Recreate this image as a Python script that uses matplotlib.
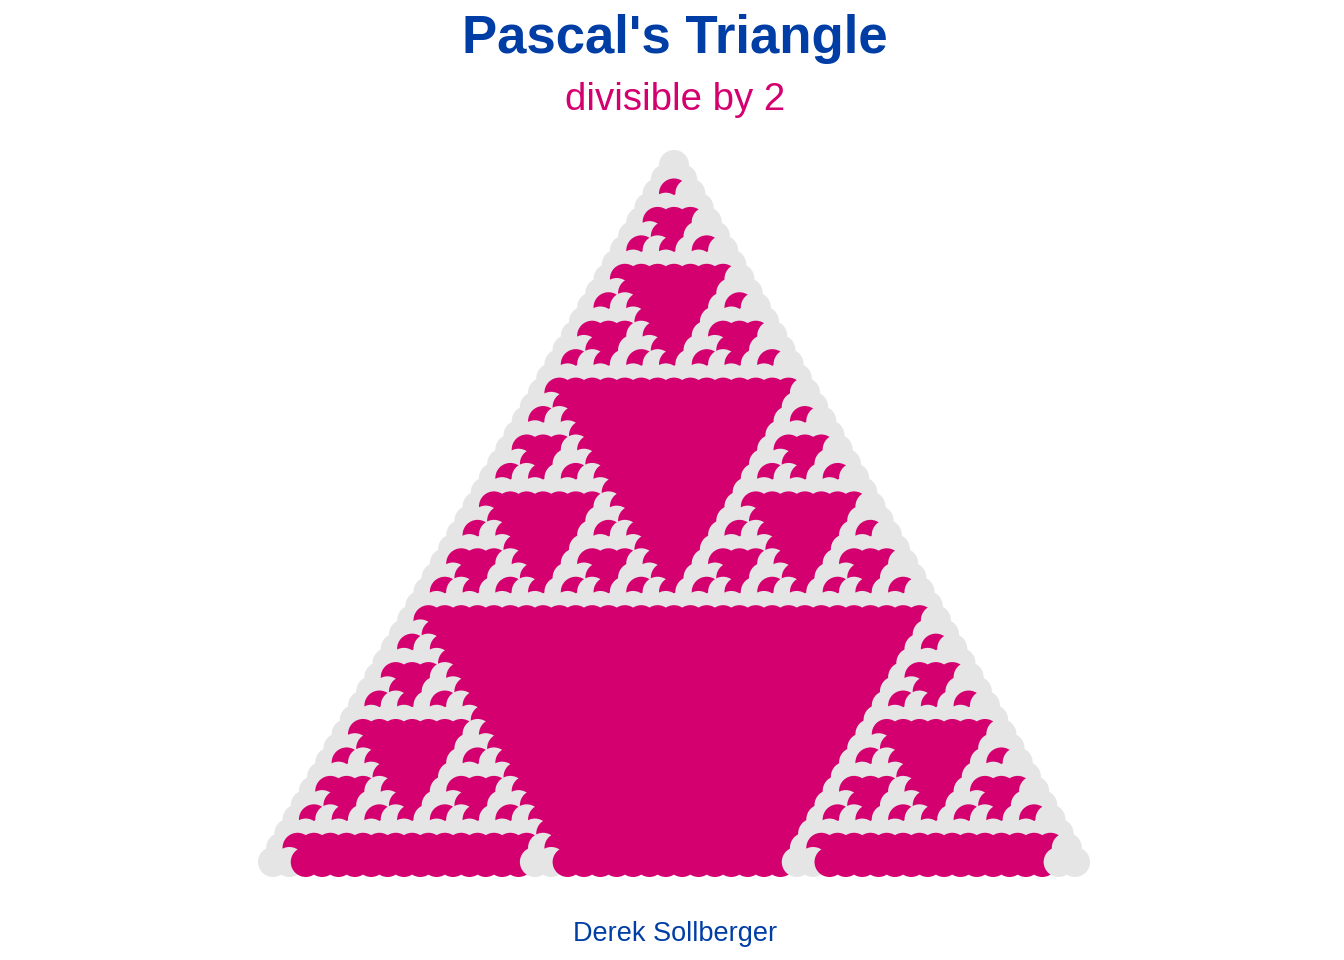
import math
import matplotlib
matplotlib.use("Agg")
import matplotlib.pyplot as plt

# Pascal's triangle, rows 0..49
n_rows = 50
divisor = 2

title = "Pascal's Triangle"
subtitle = "divisible by 2"
caption = "Derek Sollberger"

pink = "#D5006F"
grey = "#E5E5E5"
blue = "#003DA5"

# positions: row n, entry k -> x = k - n/2, y = n
xs, ys, cols = [], [], []
for n in range(n_rows):
    for k in range(n + 1):
        xs.append(k - n / 2)
        ys.append(n)
        cols.append(pink if math.comb(n, k) % divisor == 0 else grey)

fig = plt.figure(figsize=(13.44, 9.6), dpi=100)
ax = fig.add_axes([0, 0, 1, 1])

# pixel mapping: apex centre at (674, 165), bottom row centre at y 862
px_x = 802 / (n_rows - 1)
px_y = 697 / (n_rows - 1)
ax.set_xlim((0 - 674) / px_x, (1344 - 674) / px_x)
ax.set_ylim((960 - 165) / px_y, (0 - 165) / px_y)

ax.scatter(xs, ys, c=cols, s=(30 * 0.72) ** 2, linewidths=0, zorder=2)
ax.axis("off")

plt.rcParams['font.family'] = ['Liberation Sans', 'DejaVu Sans']
cx = 675 / 1344
fig.text(cx, 1 - 53 / 960, title, ha="center", va="baseline",
         fontsize=38, fontweight="bold", color=blue)
fig.text(cx, 1 - 110 / 960, subtitle, ha="center", va="baseline",
         fontsize=27.6, color=pink)
fig.text(cx, 1 - 941 / 960, caption, ha="center", va="baseline",
         fontsize=19.5, color=blue)

fig.savefig("out.png", dpi=100)
